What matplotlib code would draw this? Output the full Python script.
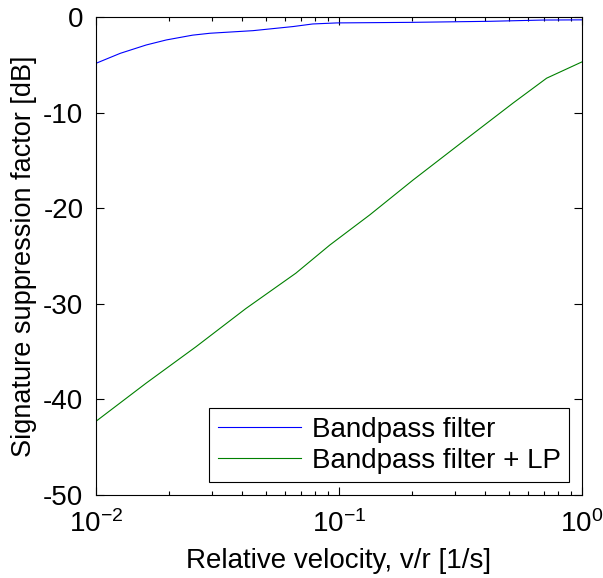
import matplotlib
matplotlib.use("Agg")
import math
import matplotlib.pyplot as plt
from matplotlib.ticker import LogLocator, FuncFormatter, NullFormatter

plt.rcParams['font.family'] = ['Liberation Sans', 'DejaVu Sans']
plt.rcParams['mathtext.fontset'] = 'custom'
plt.rcParams['mathtext.rm'] = 'Liberation Sans'
plt.rcParams['mathtext.it'] = 'Liberation Sans'
plt.rcParams['mathtext.bf'] = 'Liberation Sans'
plt.rcParams['axes.unicode_minus'] = False

# Data
bp_x = [0.01, 0.0126, 0.0161, 0.0195, 0.025, 0.0295, 0.0443, 0.0648, 0.078, 0.098, 0.2, 0.42, 0.69, 1.0]
bp_y = [-4.85, -3.8, -2.93, -2.4, -1.9, -1.7, -1.43, -1.0, -0.73, -0.62, -0.56, -0.45, -0.32, -0.3]

lp_x = [0.01, 0.0161, 0.0258, 0.0414, 0.0665, 0.0918, 0.134, 0.202, 0.325, 0.521, 0.716, 1.0]
lp_y = [-42.3, -38.3, -34.5, -30.5, -26.8, -23.85, -20.7, -17.05, -13.0, -9.0, -6.4, -4.7]

labels = ['Bandpass filter', 'Bandpass filter + LP']
yticks = [0, -10, -20, -30, -40, -50]

FS = 20

fig = plt.figure(figsize=(6.03, 5.78), dpi=100)
ax = fig.add_axes([0.159, 0.1436, 0.806, 0.827])

ax.plot(bp_x, bp_y, color='#0000ff', lw=0.8, label=labels[0])
ax.plot(lp_x, lp_y, color='#008000', lw=0.8, label=labels[1])

ax.set_xscale('log')
ax.set_xlim(0.01, 1)
ax.set_ylim(-50, 0)
ax.set_yticks(yticks)

ax.xaxis.set_major_locator(LogLocator(base=10, numticks=10))
ax.xaxis.set_minor_locator(LogLocator(base=10, subs=range(2, 10), numticks=20))
ax.xaxis.set_minor_formatter(NullFormatter())

def fmt(v, pos):
    e = int(round(math.log10(v)))
    return r'$\mathregular{10^{%d}}$' % e
ax.xaxis.set_major_formatter(FuncFormatter(fmt))

ax.tick_params(which='both', direction='in', top=True, right=True, labelsize=FS, width=0.8)
ax.tick_params(which='major', length=6)
ax.tick_params(which='minor', length=3)
ax.tick_params(axis='x', which='major', pad=11)
ax.tick_params(axis='y', which='major', pad=9)
for s in ax.spines.values():
    s.set_linewidth(0.8)

ax.set_xlabel('Relative velocity, v/r [1/s]', fontsize=FS, labelpad=7)
ax.set_ylabel('Signature suppression factor [dB]', fontsize=19.5, labelpad=4.5)

leg = ax.legend(loc='lower right', fontsize=FS, frameon=True, fancybox=False,
                edgecolor='black', framealpha=1, handlelength=3.0, borderpad=0.3,
                labelspacing=0.2, handletextpad=0.4, borderaxespad=0.45)
leg.get_frame().set_linewidth(0.8)

fig.savefig('out.png', dpi=100)
